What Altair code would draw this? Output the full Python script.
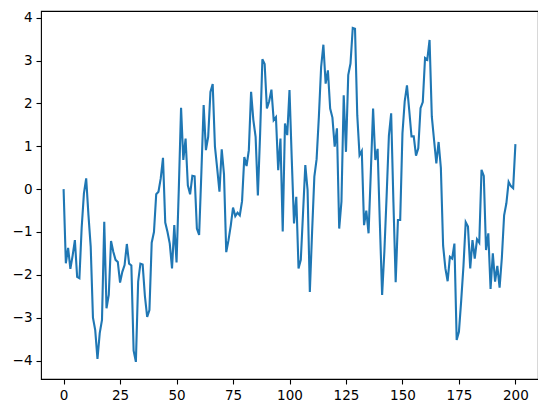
import altair as alt
import pandas as pd

values = [
    0.0, -1.73, -1.37, -1.86, -1.55, -1.19, -2.05, -2.08, -0.9, -0.1,
    0.25, -0.6, -1.34, -3.0, -3.29, -3.96, -3.36, -3.05, -0.76, -2.78,
    -2.47, -1.21, -1.46, -1.65, -1.7, -2.18, -1.93, -1.77, -1.28, -1.74,
    -1.78, -3.77, -4.03, -2.16, -1.74, -1.76, -2.5, -2.98, -2.82, -1.25,
    -1.0, -0.12, -0.06, 0.25, 0.73, -0.78, -1.0, -1.27, -1.85, -0.84,
    -1.71, 0.0, 1.9, 0.68, 1.18, 0.09, -0.12, 0.31, 0.3, -0.92,
    -1.07, 0.4, 1.96, 0.91, 1.22, 2.27, 2.45, 0.99, 0.48, -0.06,
    0.93, 0.35, -1.47, -1.19, -0.85, -0.43, -0.63, -0.55, -0.61, -0.28,
    0.75, 0.54, 0.91, 2.27, 1.61, 1.22, -0.15, 1.3, 3.03, 2.92,
    1.88, 2.05, 2.32, 1.61, 1.68, 0.44, 1.18, -0.99, 1.53, 1.26,
    2.31, 0.7, -0.8, -0.18, -1.85, -1.65, -0.55, 0.56, -0.02, -2.4,
    -1.0, 0.29, 0.7, 1.69, 2.85, 3.37, 2.46, 2.77, 1.88, 1.67,
    0.99, 1.42, -0.92, -0.29, 2.19, 0.87, 2.66, 2.93, 3.76, 3.74,
    1.72, 0.79, 0.89, -0.84, -0.5, -1.03, 0.4, 1.88, 0.68, 0.94,
    -0.8, -2.47, -1.45, -0.15, 1.25, 1.77, -0.3, -2.17, -0.72, -0.72,
    1.3, 2.05, 2.42, 1.84, 1.23, 1.23, 0.78, 0.95, 1.89, 2.03,
    3.06, 3.02, 3.48, 1.69, 1.14, 0.6, 1.1, 0.5, -1.32, -1.85,
    -2.15, -1.58, -1.62, -1.27, -3.52, -3.33, -2.6, -1.8, -0.77, -0.87,
    -1.85, -1.19, -1.62, -1.17, -1.25, 0.45, 0.31, -1.42, -1.03, -2.33,
    -1.5, -2.16, -1.79, -2.3, -1.6, -0.61, -0.33, 0.17, 0.07, 0.02,
    1.05,
]
x_ticks = [0, 25, 50, 75, 100, 125, 150, 175, 200]
y_ticks = [-4, -3, -2, -1, 0, 1, 2, 3, 4]

df = pd.DataFrame({"x": list(range(len(values))), "y": values})

axis_common = dict(
    title=None,
    grid=False,
    domain=False,
    tickSize=5,
    tickWidth=1.1,
    tickColor="black",
    labelFont="DejaVu Sans",
    labelFontSize=13.5,
    labelColor="black",
    labelPadding=4,
)

chart = (
    alt.Chart(df)
    .mark_line(color="#1f77b4", strokeWidth=2.1)
    .encode(
        x=alt.X(
            "x:Q",
            scale=alt.Scale(domain=[-10, 210], nice=False, zero=False),
            axis=alt.Axis(values=x_ticks, **axis_common),
        ),
        y=alt.Y(
            "y:Q",
            scale=alt.Scale(domain=[-4.43, 4.156], nice=False, zero=False),
            axis=alt.Axis(values=y_ticks, **axis_common),
        ),
    )
    .properties(
        width=497,
        height=368,
        autosize=alt.AutoSizeParams(type="none"),
        padding={"left": 33, "top": 3, "right": 0, "bottom": 22},
    )
    .configure_view(stroke="black", strokeWidth=1.1)
)

chart.save("out.html", embed_options={"renderer": "svg", "actions": False})
